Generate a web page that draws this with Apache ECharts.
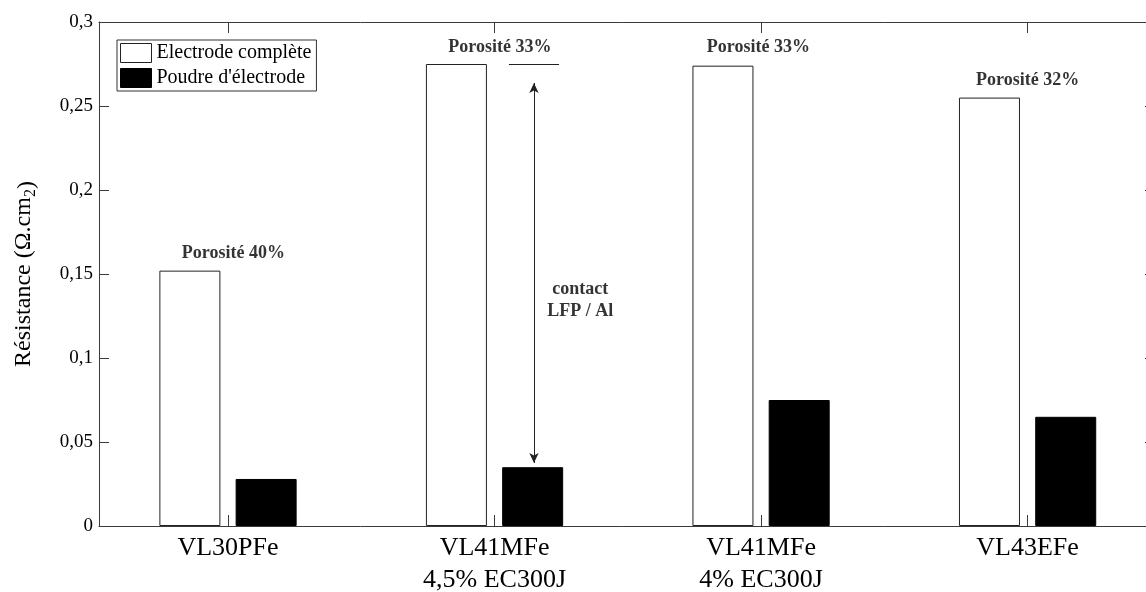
<!DOCTYPE html>
<html>
<head>
<meta charset="utf-8">
<script src="https://cdn.jsdelivr.net/npm/echarts@6/dist/echarts.min.js"></script>
<style>
html,body{margin:0;padding:0;background:#fff;}
#chart{width:1146px;height:592px;}
</style>
</head>
<body>
<div id="chart"></div>
<script>
// ---- data ----
const categories = ['VL30PFe', 'VL41MFe\n4,5% EC300J', 'VL41MFe\n4% EC300J', 'VL43EFe'];
const categoryPos = [1, 2, 3, 4];
const seriesNames = ['Electrode complète', "Poudre d'électrode"];
const electrodeComplete = [0.152, 0.275, 0.274, 0.255];
const poudreElectrode = [0.028, 0.035, 0.075, 0.065];
const yTicks = [0, 0.05, 0.1, 0.15, 0.2, 0.25, 0.3];
// annotations (data coordinates)
const porosityLabels = ['Porosité 40%', 'Porosité 33%', 'Porosité 33%', 'Porosité 32%'];
const porosityX = [1.02, 2.02, 2.99, 4.0];
const porosityY = [0.162, 0.285, 0.285, 0.2655];
const contactText = 'contact\nLFP / Al';
const contactTextPos = [2.322, 0.1345];
const contactArrow = [[2.148, 0.2637], [2.148, 0.0375]];
const contactRef = [[2.054, 0.275], [2.242, 0.275]];

const FONT = '"Liberation Serif", "Times New Roman", serif';
const AX = '#3a3a3a';

const chart = echarts.init(document.getElementById('chart'), null, {renderer: 'canvas'});

const annotData = porosityX.map((x, i) => ({value: [x, porosityY[i]], label: {formatter: porosityLabels[i]}}));
annotData.push({value: contactTextPos, label: {formatter: contactText, lineHeight: 22}});

const xCommon = {
  type: 'value', min: 0.516, max: 4.478,
  splitLine: {show: false},
  axisLine: {show: true, onZero: false, lineStyle: {color: AX, width: 1}}
};
const yCommon = {
  type: 'value', min: 0, max: 0.3, interval: 0.05,
  splitLine: {show: false},
  axisLine: {show: true, onZero: false, lineStyle: {color: AX, width: 1}},
  axisTick: {show: true, inside: true, length: 10, lineStyle: {color: AX}}
};

chart.setOption({
  animation: false,
  backgroundColor: '#fff',
  textStyle: {fontFamily: FONT},
  grid: {left: 99, top: 22, width: 1056, height: 504, outerBoundsMode: 'none', containLabel: false},
  legend: {
    left: 117, top: 40, orient: 'vertical', align: 'left',
    itemWidth: 31, itemHeight: 19, itemGap: 5,
    padding: [3, 5, 3, 3],
    borderColor: '#333', borderWidth: 1, borderRadius: 0,
    textStyle: {fontFamily: FONT, fontSize: 20, color: '#000'},
    data: [
      {name: seriesNames[0], icon: 'rect', itemStyle: {color: '#fff', borderColor: '#222', borderWidth: 1}},
      {name: seriesNames[1], icon: 'rect', itemStyle: {color: '#000', borderColor: '#000', borderWidth: 1}}
    ]
  },
  xAxis: [
    Object.assign({}, xCommon, {
      position: 'bottom',
      axisTick: {show: true, inside: true, length: 11, customValues: categoryPos, lineStyle: {color: AX}},
      axisLabel: {
        show: true, customValues: categoryPos, margin: 6,
        fontFamily: FONT, fontSize: 26, lineHeight: 32, color: '#000',
        formatter: v => categories[categoryPos.indexOf(Math.round(v))] || ''
      }
    }),
    Object.assign({}, xCommon, {
      position: 'top',
      axisTick: {show: true, inside: true, length: 11, customValues: categoryPos, lineStyle: {color: AX}},
      axisLabel: {show: false}
    })
  ],
  yAxis: [
    Object.assign({}, yCommon, {
      position: 'left',
      name: '{a|Résistance (Ω.cm}{s|2}{b|)}',
      nameLocation: 'middle', nameGap: 60,
      nameTextStyle: {
        rich: {
          a: {fontFamily: FONT, fontSize: 24, color: '#000', lineHeight: 30},
          s: {fontFamily: FONT, fontSize: 16, color: '#000', verticalAlign: 'bottom', lineHeight: 30},
          b: {fontFamily: FONT, fontSize: 24, color: '#000', verticalAlign: 'bottom', lineHeight: 30}
        }
      },
      axisLabel: {
        show: true, margin: 6, fontFamily: FONT, fontSize: 19, color: '#000',
        customValues: yTicks,
        formatter: v => String(+v.toFixed(2)).replace('.', ',')
      }
    }),
    Object.assign({}, yCommon, {
      position: 'right',
      axisLabel: {show: false}
    })
  ],
  series: [
    {
      name: seriesNames[0], type: 'bar', xAxisIndex: 0, yAxisIndex: 0,
      barWidth: 61, barGap: '25%',
      itemStyle: {color: '#fff', borderColor: '#222', borderWidth: 1},
      data: categoryPos.map((x, i) => [x, electrodeComplete[i]])
    },
    {
      name: seriesNames[1], type: 'bar', xAxisIndex: 0, yAxisIndex: 0,
      barWidth: 61, barGap: '25%',
      itemStyle: {color: '#000', borderColor: '#000', borderWidth: 1},
      data: categoryPos.map((x, i) => [x, poudreElectrode[i]])
    },
    {
      name: 'annotations', type: 'scatter', xAxisIndex: 0, yAxisIndex: 0,
      symbolSize: 0, silent: true,
      label: {show: true, position: 'inside', fontFamily: FONT, fontWeight: 'bold', fontSize: 18, color: '#000'},
      data: annotData,
      markLine: {
        silent: true, animation: false,
        label: {show: false},
        lineStyle: {color: '#222', width: 1, type: 'solid'},
        data: [
          [{coord: contactArrow[0], symbol: 'arrow', symbolSize: [7, 10]},
           {coord: contactArrow[1], symbol: 'arrow', symbolSize: [7, 10]}],
          [{coord: contactRef[0], symbol: 'none'},
           {coord: contactRef[1], symbol: 'none'}]
        ]
      }
    }
  ]
});
</script>
</body>
</html>
